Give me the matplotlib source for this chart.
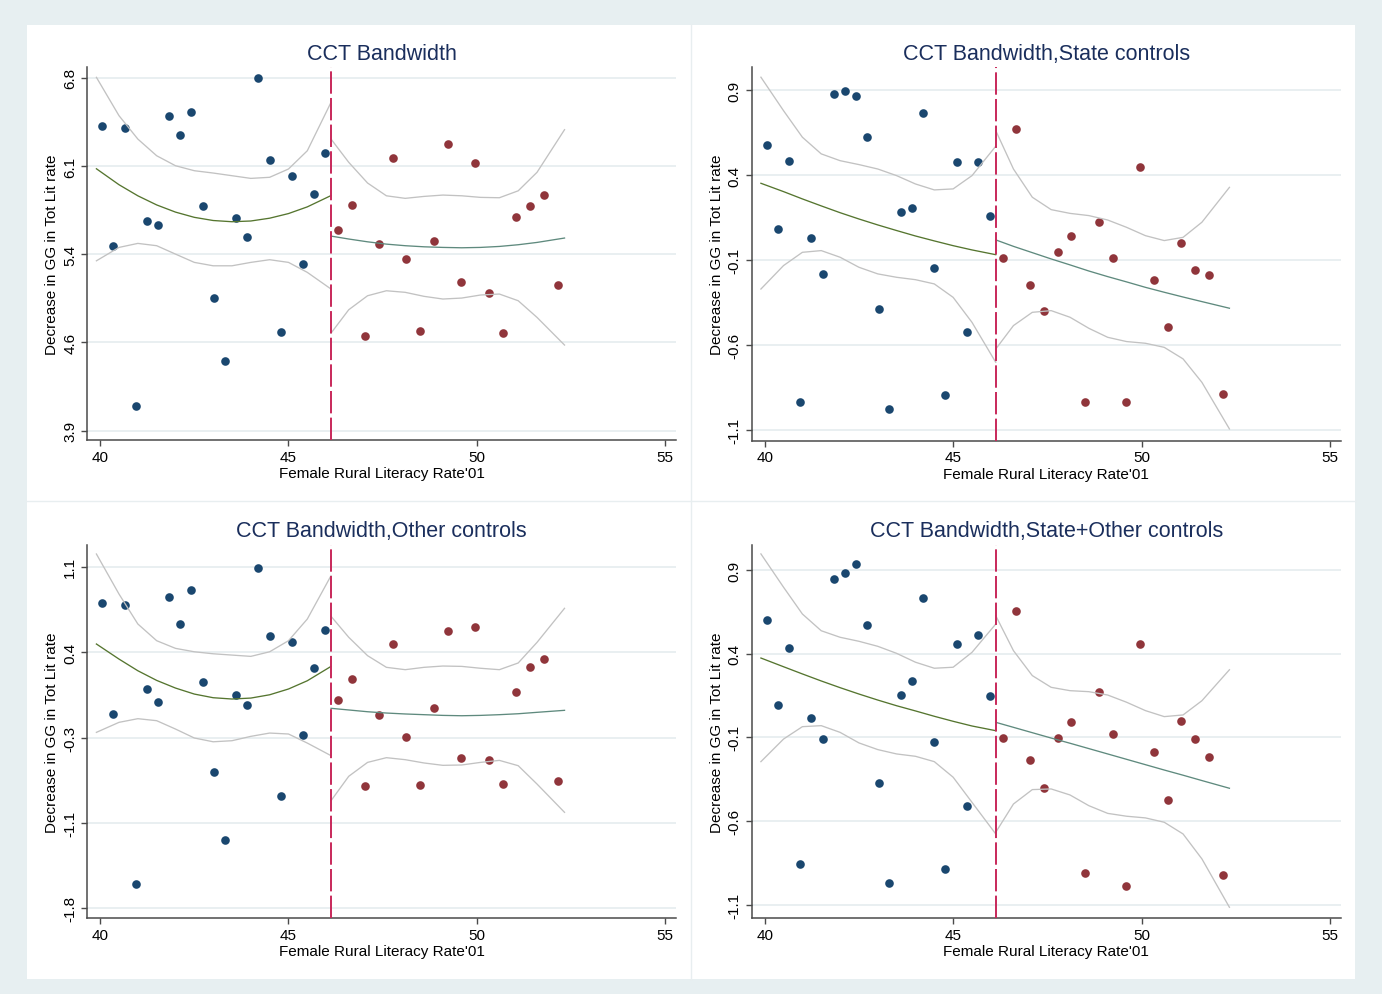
import matplotlib
matplotlib.use("Agg")
import matplotlib.pyplot as plt
from matplotlib.patches import Rectangle
from matplotlib.lines import Line2D

plt.rcParams['font.family'] = ['Liberation Sans', 'DejaVu Sans']

# bin means (x shared by all four specifications)
cutoff = 46.13
x_left = [40.06, 40.35, 40.65, 40.95, 41.24, 41.54, 41.83, 42.13, 42.42, 42.72, 43.02,
          43.31, 43.61, 43.90, 44.19, 44.50, 44.79, 45.09, 45.38, 45.67, 45.97]
x_right = [46.32, 46.68, 47.04, 47.41, 47.77, 48.13, 48.50, 48.86, 49.23, 49.59, 49.96,
           50.33, 50.69, 51.05, 51.42, 51.79, 52.15]
# points where the fitted curves / CI bands were evaluated
fit_x_left = [39.9, 40.5, 41.0, 41.5, 42.0, 42.5, 43.0, 43.5, 44.0, 44.5, 45.0, 45.5, 46.13]
fit_x_right = [46.13, 46.6, 47.1, 47.6, 48.1, 48.6, 49.1, 49.6, 50.1, 50.6, 51.1, 51.6, 52.33]

titles = ["CCT Bandwidth", "CCT Bandwidth,State controls",
          "CCT Bandwidth,Other controls", "CCT Bandwidth,State+Other controls"]
xticks = [40, 45, 50, 55]
xlabel = "Female Rural Literacy Rate'01"
ylabel = "Decrease in GG in Tot Lit rate"

# 1. no controls
p1_blue = [6.403, 5.415, 6.384, 4.100, 5.625, 5.590, 6.488, 6.332, 6.515, 5.748, 4.987,
           4.470, 5.645, 5.494, 6.800, 6.121, 4.713, 5.992, 5.272, 5.844, 6.181]
p1_red = [5.546, 5.756, 4.675, 5.436, 6.143, 5.308, 4.719, 5.461, 6.253, 5.119, 6.097,
          5.033, 4.702, 5.658, 5.748, 5.839, 5.094]
p1_fit_l = [6.052, 5.921, 5.830, 5.755, 5.696, 5.653, 5.627, 5.617, 5.623, 5.646, 5.684, 5.739, 5.832]
p1_hi_l = [6.803, 6.488, 6.296, 6.159, 6.077, 6.036, 6.017, 5.995, 5.973, 5.982, 6.050, 6.200, 6.598]
p1_lo_l = [5.296, 5.406, 5.439, 5.420, 5.351, 5.283, 5.255, 5.255, 5.283, 5.305, 5.283, 5.201, 5.064]
p1_fit_r = [5.499, 5.475, 5.452, 5.433, 5.420, 5.411, 5.406, 5.403, 5.406, 5.414, 5.428, 5.447, 5.483]
p1_hi_r = [6.296, 6.105, 5.935, 5.830, 5.809, 5.825, 5.836, 5.830, 5.817, 5.814, 5.871, 6.023, 6.373]
p1_lo_r = [4.702, 4.894, 5.009, 5.050, 5.037, 5.004, 4.982, 4.990, 5.015, 5.023, 4.968, 4.831, 4.604]
p1_yticks = [3.9, 4.625, 5.35, 6.075, 6.8]
p1_ylabels = ["3.9", "4.6", "5.4", "6.1", "6.8"]

# 2. state controls
p2_blue = [0.576, 0.082, 0.480, -0.937, 0.028, -0.184, 0.876, 0.892, 0.866, 0.622, -0.390,
           -0.976, 0.180, 0.208, 0.763, -0.145, -0.892, 0.476, -0.525, 0.476, 0.161]
p2_red = [-0.090, 0.672, -0.245, -0.402, -0.051, 0.041, -0.935, 0.122, -0.090, -0.935, 0.449,
          -0.218, -0.496, 0.002, -0.157, -0.190, -0.886]
p2_fit_l = [0.351, 0.302, 0.259, 0.218, 0.178, 0.141, 0.106, 0.073, 0.041, 0.012, -0.016, -0.041, -0.069]
p2_hi_l = [0.975, 0.778, 0.622, 0.524, 0.484, 0.461, 0.435, 0.396, 0.347, 0.312, 0.318, 0.396, 0.569]
p2_lo_l = [-0.271, -0.133, -0.055, -0.045, -0.084, -0.143, -0.182, -0.202, -0.216, -0.241, -0.320, -0.467, -0.702]
p2_fit_r = [0.018, -0.020, -0.057, -0.094, -0.129, -0.165, -0.198, -0.229, -0.261, -0.290, -0.318, -0.345, -0.384]
p2_hi_r = [0.661, 0.435, 0.269, 0.196, 0.174, 0.161, 0.135, 0.092, 0.043, 0.014, 0.033, 0.122, 0.327]
p2_lo_r = [-0.624, -0.486, -0.408, -0.398, -0.437, -0.502, -0.555, -0.580, -0.590, -0.614, -0.682, -0.820, -1.094]
p2_yticks = [-1.1, -0.6, -0.1, 0.4, 0.9]
p2_ylabels = ["-1.1", "-0.6", "-0.1", "0.4", "0.9"]

# 3. other controls
p3_blue = [0.789, -0.148, 0.772, -1.591, 0.064, -0.049, 0.843, 0.611, 0.905, 0.119, -0.645,
           -1.223, 0.008, -0.071, 1.089, 0.509, -0.847, 0.461, -0.331, 0.240, 0.563]
p3_red = [-0.032, 0.147, -0.764, -0.156, 0.447, -0.349, -0.751, -0.099, 0.551, -0.524, 0.585,
          -0.538, -0.745, 0.039, 0.251, 0.316, -0.717]
p3_fit_l = [0.444, 0.316, 0.217, 0.135, 0.070, 0.019, -0.012, -0.023, -0.015, 0.013, 0.062, 0.132, 0.254]
p3_hi_l = [1.208, 0.868, 0.614, 0.472, 0.407, 0.378, 0.361, 0.350, 0.339, 0.378, 0.472, 0.656, 1.024]
p3_lo_l = [-0.306, -0.221, -0.190, -0.207, -0.278, -0.354, -0.386, -0.377, -0.340, -0.312, -0.320, -0.397, -0.504]
p3_fit_r = [-0.102, -0.116, -0.131, -0.142, -0.150, -0.156, -0.162, -0.165, -0.162, -0.156, -0.148, -0.136, -0.119]
p3_hi_r = [0.679, 0.501, 0.345, 0.246, 0.226, 0.246, 0.257, 0.254, 0.238, 0.226, 0.283, 0.458, 0.747]
p3_lo_r = [-0.886, -0.679, -0.561, -0.521, -0.538, -0.566, -0.586, -0.583, -0.561, -0.544, -0.589, -0.745, -0.985]
p3_yticks = [-1.8, -1.075, -0.35, 0.375, 1.1]
p3_ylabels = ["-1.8", "-1.1", "-0.3", "0.4", "1.1"]

# 4. state + other controls
p4_blue = [0.601, 0.094, 0.436, -0.854, 0.014, -0.110, 0.846, 0.880, 0.936, 0.570, -0.374,
           -0.972, 0.155, 0.237, 0.735, -0.129, -0.888, 0.456, -0.510, 0.514, 0.149]
p4_red = [-0.105, 0.655, -0.237, -0.400, -0.102, -0.010, -0.912, 0.171, -0.080, -0.988, 0.456,
          -0.189, -0.476, 0.000, -0.111, -0.215, -0.924]
p4_fit_l = [0.374, 0.322, 0.279, 0.237, 0.197, 0.159, 0.123, 0.089, 0.058, 0.026, -0.004, -0.032, -0.060]
p4_hi_l = [0.996, 0.797, 0.637, 0.537, 0.498, 0.474, 0.444, 0.402, 0.349, 0.313, 0.319, 0.408, 0.577]
p4_lo_l = [-0.245, -0.110, -0.036, -0.030, -0.070, -0.133, -0.173, -0.199, -0.213, -0.245, -0.338, -0.488, -0.677]
p4_fit_r = [-0.010, -0.040, -0.072, -0.104, -0.135, -0.167, -0.199, -0.231, -0.263, -0.295, -0.326, -0.358, -0.404]
p4_hi_r = [0.627, 0.418, 0.269, 0.199, 0.179, 0.173, 0.153, 0.110, 0.060, 0.024, 0.034, 0.119, 0.304]
p4_lo_r = [-0.667, -0.498, -0.412, -0.408, -0.444, -0.508, -0.554, -0.571, -0.581, -0.607, -0.677, -0.826, -1.115]
p4_yticks = [-1.1, -0.6, -0.1, 0.4, 0.9]
p4_ylabels = ["-1.1", "-0.6", "-0.1", "0.4", "0.9"]

panels = [
    (p1_blue, p1_red, p1_fit_l, p1_hi_l, p1_lo_l, p1_fit_r, p1_hi_r, p1_lo_r, p1_yticks, p1_ylabels),
    (p2_blue, p2_red, p2_fit_l, p2_hi_l, p2_lo_l, p2_fit_r, p2_hi_r, p2_lo_r, p2_yticks, p2_ylabels),
    (p3_blue, p3_red, p3_fit_l, p3_hi_l, p3_lo_l, p3_fit_r, p3_hi_r, p3_lo_r, p3_yticks, p3_ylabels),
    (p4_blue, p4_red, p4_fit_l, p4_hi_l, p4_lo_l, p4_fit_r, p4_hi_r, p4_lo_r, p4_yticks, p4_ylabels),
]

# layout (pixels) and axis ranges
W, H = 1382, 995
boxes = [(87, 68, 676, 441), (751.5, 68, 1341, 441.5),
         (87, 545.7, 676, 919), (751.5, 545.7, 1341, 919)]
ylims = [(3.824, 6.888), (-1.162, 1.035), (-1.882, 1.287), (-1.179, 1.051)]
xlim = (39.65, 55.29)

navy = '#1a476f'
maroon = '#90353b'
green = '#55752f'
teal = '#5f8a7e'
ci_gray = '#c2c2c2'
grid_col = '#e3ebee'
axis_col = '#4a4a4a'

fig = plt.figure(figsize=(W / 100, H / 100), dpi=100, facecolor='#e7eff1')
fig.add_artist(Rectangle((27 / W, 1 - 980 / H), (1355 - 27) / W, (980 - 26) / H,
                         transform=fig.transFigure, facecolor='white', edgecolor='none', zorder=0))
fig.add_artist(Line2D([691 / W, 691 / W], [1 - 980 / H, 1 - 26 / H], color='#e8eef0', lw=1, zorder=0.5))
fig.add_artist(Line2D([27 / W, 1355 / W], [1 - 502 / H, 1 - 502 / H], color='#e8eef0', lw=1, zorder=0.5))

for i, (blue, red, fit_l, hi_l, lo_l, fit_r, hi_r, lo_r, yt, yl) in enumerate(panels):
    l, t, r, b = boxes[i]
    ax = fig.add_axes([l / W, 1 - b / H, (r - l) / W, (b - t) / H])
    ax.set_facecolor('none')

    ax.plot(x_left, blue, 'o', color=navy, ms=6.2, mew=0, zorder=2)
    ax.plot(x_right, red, 'o', color=maroon, ms=6.2, mew=0, zorder=2)

    ax.plot(fit_x_left, hi_l, color=ci_gray, lw=0.95, zorder=3)
    ax.plot(fit_x_left, lo_l, color=ci_gray, lw=0.95, zorder=3)
    ax.plot(fit_x_right, hi_r, color=ci_gray, lw=0.95, zorder=3)
    ax.plot(fit_x_right, lo_r, color=ci_gray, lw=0.95, zorder=3)
    ax.plot(fit_x_left, fit_l, color=green, lw=0.95, zorder=3)
    ax.plot(fit_x_right, fit_r, color=teal, lw=0.95, zorder=3)

    # threshold
    ax.axvline(cutoff, color='#c8285a', lw=1.4, dashes=(11.5, 2.2), zorder=4)

    ax.set_xlim(*xlim)
    ax.set_ylim(*ylims[i])
    ax.set_xticks(xticks)
    ax.set_xticklabels([str(v) for v in xticks])
    ax.set_yticks(yt)
    ax.set_yticklabels(yl, rotation=90, va='center')
    ax.yaxis.grid(True, color=grid_col, lw=1.1)
    ax.set_axisbelow(True)

    for s in ('top', 'right'):
        ax.spines[s].set_visible(False)
    for s in ('left', 'bottom'):
        ax.spines[s].set_color(axis_col)
        ax.spines[s].set_linewidth(1.1)
    ax.tick_params(length=4, width=1, color=axis_col, labelsize=11, pad=3, labelcolor='black')

    ax.set_xlabel(xlabel, fontsize=11, labelpad=2)
    ax.set_ylabel(ylabel, fontsize=11, labelpad=3)
    ax.set_title(titles[i], fontsize=15.5, color='#1a2e5c', pad=6)

fig.savefig('out.png', dpi=100, facecolor=fig.get_facecolor())
